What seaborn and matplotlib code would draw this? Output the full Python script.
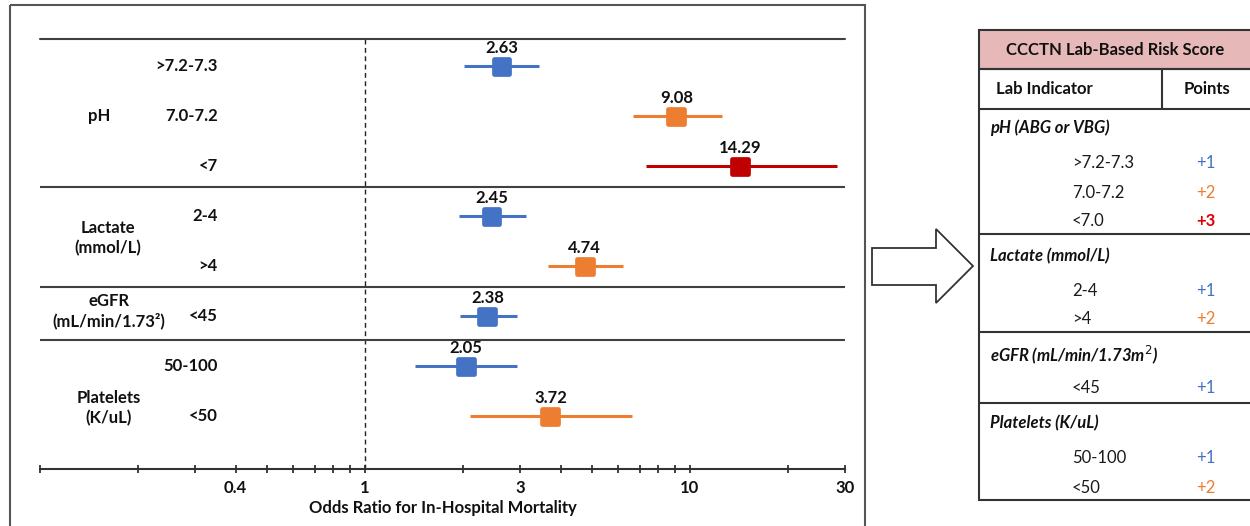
import numpy as np
import pandas as pd
import matplotlib
matplotlib.use("Agg")
import matplotlib.pyplot as plt
import seaborn as sns
from matplotlib.patches import Rectangle, Polygon
from matplotlib.ticker import LogLocator, NullFormatter

sns.set_theme(style="white")
plt.rcParams['font.family'] = ['Lato', 'DejaVu Sans']

# forest plot data
levels = [">7.2-7.3", "7.0-7.2", "<7", "2-4", ">4", "<45", "50-100", "<50"]
odds = [2.63, 9.08, 14.29, 2.45, 4.74, 2.38, 2.05, 3.72]
ci_low = [2.02, 6.67, 7.32, 1.94, 3.65, 1.96, 1.43, 2.11]
ci_high = [3.42, 12.56, 28.4, 3.14, 6.21, 2.93, 2.94, 6.62]
tier = ["+1", "+2", "+3", "+1", "+2", "+1", "+1", "+2"]
groups = ["pH", "Lactate\n(mmol/L)", "eGFR\n(mL/min/1.73²)", "Platelets\n(K/uL)"]
group_rows = [1.0, 3.43, 4.9, 6.83]
group_x = [0.073, 0.084, 0.086, 0.085]
separators = [2.42, 4.42, 5.47]
xticks = [0.4, 1, 3, 10, 30]

# risk score table data
table_groups = ["pH (ABG or VBG)", "Lactate (mmol/L)", "eGFR (mL/min/1.73m$^2$)", "Platelets (K/uL)"]
table_levels = [">7.2-7.3", "7.0-7.2", "<7.0", "2-4", ">4", "<45", "50-100", "<50"]
table_points = tier

palette = {"+1": "#4472C4", "+2": "#ED7D31", "+3": "#C00000"}
text_palette = {"+1": "#4472C4", "+2": "#ED7D31", "+3": "#DC0000"}
FS = 12
INK = "#111111"

df = pd.DataFrame({"level": levels, "odds": odds, "lo": ci_low, "hi": ci_high,
                   "tier": tier, "row": np.arange(len(levels))})

fig = plt.figure(figsize=(12.5, 5.26), dpi=100)
ax = fig.add_axes([0.032, 0.1084, 0.644, 0.8175])

for t, sub in df.groupby("tier"):
    ax.hlines(sub["row"], sub["lo"], sub["hi"], color=palette[t], lw=2.2, zorder=2)
sns.scatterplot(data=df, x="odds", y="row", hue="tier", palette=palette, marker="s",
                s=130, linewidth=3.4, legend=False, ax=ax, zorder=3)
for c in ax.collections[-1:]:
    c.set_joinstyle("round")
    c.set_edgecolor(c.get_facecolor())

for _, r in df.iterrows():
    ax.text(r["odds"], r["row"] - 0.26, f"{r['odds']:.2f}", ha="center", va="baseline",
            fontsize=FS, fontweight="bold", color=INK)

ax.set_xscale("log")
ax.set_xlim(0.1, 30)
ax.set_ylim(8.05, -0.55)

ax.axhline(-0.55, color="#404040", lw=1.5, clip_on=False)
for s in separators:
    ax.axhline(s, color="#404040", lw=1.5)
ax.axvline(1, color="#222222", lw=1, ls=(0, (3.5, 2.5)), zorder=1)

# row and group labels
ytr = ax.get_yaxis_transform()
for i, lv in enumerate(levels):
    ax.text(0.221, i, lv, transform=ytr, ha="right", va="center", fontsize=FS,
            fontweight="bold", color=INK)
for g, x, y in zip(groups, group_x, group_rows):
    ax.text(x, y, g, transform=ytr, ha="center", va="center", fontsize=FS,
            fontweight="bold", color=INK, linespacing=1.25)

ax.set_yticks([])
ax.set_xticks(xticks)
ax.set_xticklabels([f"{v:g}" for v in xticks], fontsize=FS, fontweight="bold", color=INK)
ax.xaxis.set_minor_locator(LogLocator(base=10, subs=np.arange(1, 10)))
ax.xaxis.set_minor_formatter(NullFormatter())
ax.tick_params(axis="x", which="both", direction="inout", length=6, width=1.3,
               color="#333333", bottom=True, pad=5)
for side in ["top", "left", "right"]:
    ax.spines[side].set_visible(False)
ax.spines["bottom"].set_color("#333333")
ax.spines["bottom"].set_linewidth(1.5)
ax.set_xlabel("Odds Ratio for In-Hospital Mortality", fontsize=FS, fontweight="bold",
              color=INK, labelpad=3)
ax.set_ylabel("")

# overlay in pixel coordinates for frame, arrow and table
ov = fig.add_axes([0, 0, 1, 1], facecolor="none")
ov.set_xlim(0, 1250)
ov.set_ylim(526, 0)
ov.axis("off")

ov.add_patch(Rectangle((10, 5), 855, 540, fill=False, ec="#555555", lw=1.5, clip_on=False))
ov.add_patch(Polygon([(872, 248), (936, 248), (936, 229), (973, 266), (936, 303),
                      (936, 285), (872, 285)], closed=True, fill=False, ec="#333333", lw=1.3))

tl, tr = 979, 1262
ov.add_patch(Rectangle((tl, 30), tr - tl, 39, fc="#E6B9B8", ec="#333333", lw=1.5, clip_on=False))
ov.add_patch(Rectangle((tl, 69), tr - tl, 431, fill=False, ec="#333333", lw=1.5, clip_on=False))
for yy in [109, 234, 332, 403]:
    ov.plot([tl, tr], [yy, yy], color="#333333", lw=1.5, clip_on=False)
ov.plot([1162, 1162], [69, 109], color="#333333", lw=1.5)

ov.text(1115, 50, "CCCTN Lab-Based Risk Score", ha="center", va="center",
        fontsize=FS, fontweight="bold", color=INK)
ov.text(996, 89, "Lab Indicator", ha="left", va="center", fontsize=FS,
        fontweight="bold", color=INK)
ov.text(1207, 89, "Points", ha="center", va="center", fontsize=FS,
        fontweight="bold", color=INK)

group_y = [128, 256, 355, 423]
level_y = [163, 193, 221, 291, 319, 388, 458, 488]
for g, y in zip(table_groups, group_y):
    ov.text(990, y, g, ha="left", va="center", fontsize=FS, fontweight="bold",
            fontstyle="italic", color=INK)
for lv, p, y in zip(table_levels, table_points, level_y):
    ov.text(1072, y, lv, ha="left", va="center", fontsize=FS, color="#1a1a1a")
    ov.text(1206, y, p, ha="center", va="center", fontsize=FS, color=text_palette[p],
            fontweight="bold" if p == "+3" else "normal")

fig.savefig("out.png", dpi=100)
